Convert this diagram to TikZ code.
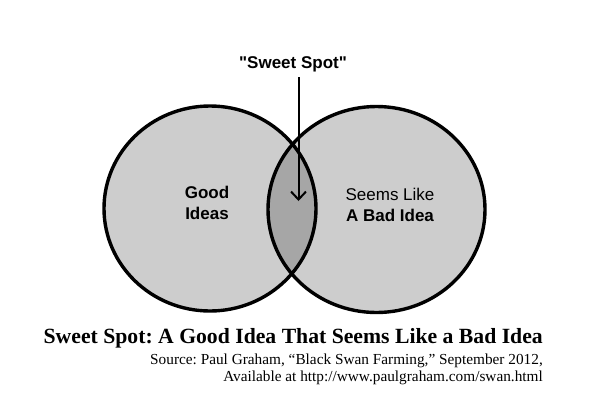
\documentclass[tikz,border=0pt]{standalone}
\usepackage{fontspec}
\setmainfont{Liberation Serif}
\newfontfamily\arialf{Liberation Sans}
\usetikzlibrary{arrows.meta}
\definecolor{vennfill}{RGB}{205,205,205}
\definecolor{vennmid}{RGB}{166,166,166}
\frenchspacing
\begin{document}
\begin{tikzpicture}[x=1pt,y=-1pt,
  venn/.style={line width=3.4pt, draw=black},
  lbl/.style={font=\arialf\fontsize{17}{21}\selectfont, anchor=base, inner sep=0pt},
  blbl/.style={lbl, font=\arialf\bfseries\fontsize{17}{21}\selectfont},
  src/.style={font=\fontsize{15.3}{17}\selectfont, anchor=base east, inner sep=0pt}]
\useasboundingbox (0,0) rectangle (596,413);
% fills
\fill[vennfill] (210,208.5) ellipse [x radius=106, y radius=102.5];
\fill[vennfill] (376.5,209.5) ellipse [x radius=108.5, y radius=103];
\begin{scope}
  \clip (210,208.5) ellipse [x radius=106, y radius=102.5];
  \fill[vennmid] (376.5,209.5) ellipse [x radius=108.5, y radius=103];
\end{scope}
\draw[venn] (210,208.5) ellipse [x radius=106, y radius=102.5];
\draw[venn] (376.5,209.5) ellipse [x radius=108.5, y radius=103];
% labels
\node[blbl] (ss) at (293,68) {"Sweet Spot"};
\coordinate (astart) at (298.5,77);
\coordinate (tip) at (298.5,201);
\draw[line width=2pt, -{Straight Barb[length=8pt,width=15pt,line width=2pt]}] (astart) -- (tip);
\node[blbl] (good) at (207,198) {Good};
\node[blbl] (ideas) at (207,219) {Ideas};
\node[lbl] (seems) at (390,200) {Seems Like};
\node[blbl] (bad) at (390,221) {A Bad Idea};
% caption
\node[anchor=base east, inner sep=0pt, font=\bfseries\fontsize{21.7}{24}\selectfont] (cap) at (543,343) {Sweet Spot: A Good Idea That Seems Like a Bad Idea};
\node[src] (src1) at (543,364) {Source: Paul Graham, “Black Swan Farming,” September 2012,};
\node[src] (src2) at (543,381) {Available at http://www.paulgraham.com/swan.html};
\end{tikzpicture}
\end{document}
